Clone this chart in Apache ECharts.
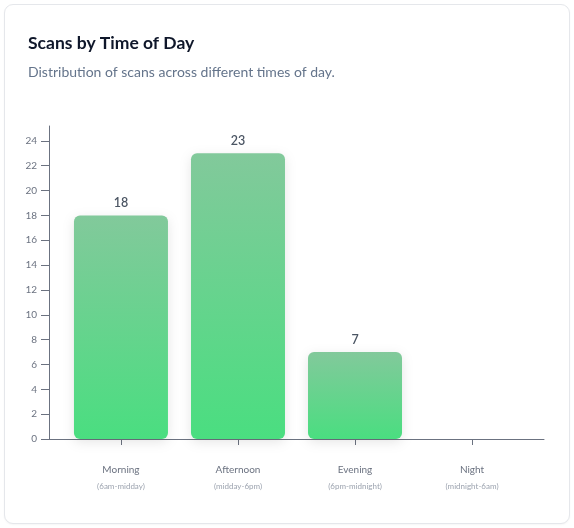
<!DOCTYPE html>
<html>
<head>
<meta charset="utf-8">
<script src="https://cdn.jsdelivr.net/npm/echarts@6/dist/echarts.min.js"></script>
<style>
  html, body { margin: 0; padding: 0; background: #ffffff; }
  #card {
    position: absolute; left: 4px; top: 4px; width: 564px; height: 518px;
    border: 1px solid #e5e7eb; border-radius: 9px; background: #fff;
    box-shadow: 0 1px 2px rgba(0,0,0,0.04);
  }
  #chart { position: absolute; left: 0; top: 0; width: 574px; height: 528px; }
</style>
</head>
<body>
<div id="card"></div>
<div id="chart"></div>
<script>
const categories = ['Morning', 'Afternoon', 'Evening', 'Night'];
const subLabels = ['(6am-midday)', '(midday-6pm)', '(6pm-midnight)', '(midnight-6am)'];
const scans = [18, 23, 7, 0];
const yTicks = [0, 2, 4, 6, 8, 10, 12, 14, 16, 18, 20, 22, 24];

const FONT = 'Lato, "Noto Sans", sans-serif';
const chart = echarts.init(document.getElementById('chart'), null, { renderer: 'canvas' });

const barGradient = new echarts.graphic.LinearGradient(0, 0, 0, 1, [
  { offset: 0, color: '#82c99b' },
  { offset: 1, color: '#4ade80' }
]);

chart.setOption({
  animation: false,
  textStyle: { fontFamily: FONT },
  title: {
    text: 'Scans by Time of Day',
    subtext: 'Distribution of scans across different times of day.',
    left: 23,
    top: 29,
    itemGap: 13,
    textStyle: { fontSize: 17.5, fontWeight: 700, color: '#0f172a', fontFamily: FONT },
    subtextStyle: { fontSize: 14, color: '#64748b', fontFamily: FONT }
  },
  grid: { left: 49, right: 30, top: 126, bottom: 89 },
  xAxis: {
    type: 'value',
    min: -0.615,
    max: 3.615,
    splitLine: { show: false },
    axisLine: { show: true, onZero: false, lineStyle: { color: '#6b7280', width: 1 } },
    axisTick: { show: true, length: 6, customValues: categories.map((c, i) => i), lineStyle: { color: '#6b7280' } },
    axisLabel: {
      customValues: categories.map((c, i) => i),
      margin: 22,
      formatter: v => '{a|' + categories[v] + '}\n{b|' + subLabels[v] + '}',
      rich: {
        a: { fontSize: 10, color: '#6b7280', lineHeight: 18, fontFamily: FONT },
        b: { fontSize: 8, color: '#9ca3af', lineHeight: 14, fontFamily: FONT }
      }
    }
  },
  yAxis: {
    type: 'value',
    min: 0,
    max: 25.2,
    splitLine: { show: false },
    axisLine: { show: true, onZero: false, lineStyle: { color: '#6b7280', width: 1 } },
    axisTick: { show: true, length: 8, customValues: yTicks, lineStyle: { color: '#6b7280' } },
    axisLabel: { customValues: yTicks, fontSize: 10, color: '#6b7280', margin: 12, fontFamily: FONT }
  },
  series: [{
    type: 'bar',
    data: scans.map((v, i) => [i, v]),
    barWidth: 94,
    itemStyle: {
      color: barGradient,
      borderRadius: 6,
      shadowBlur: 12,
      shadowColor: 'rgba(0,0,0,0.10)',
      shadowOffsetY: 3
    },
    label: {
      show: true,
      position: 'top',
      distance: 6,
      fontSize: 12.5,
      fontWeight: 600,
      color: '#4b5563',
      fontFamily: FONT,
      formatter: p => (p.value[1] > 0 ? String(p.value[1]) : '')
    }
  }]
});
</script>
</body>
</html>
